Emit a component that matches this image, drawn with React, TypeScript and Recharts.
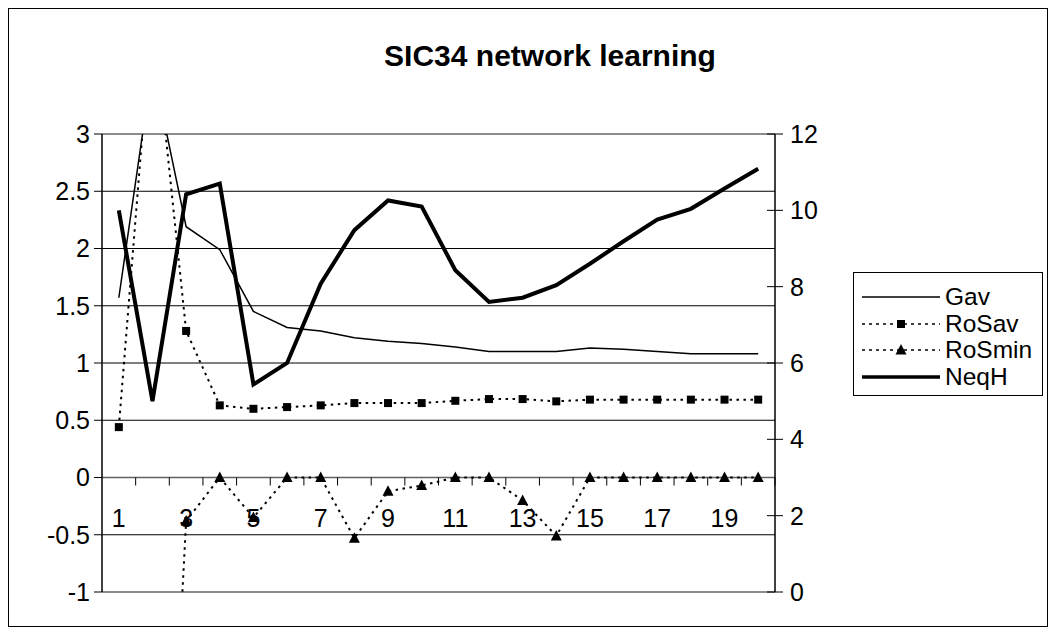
import React from 'react';
import { LineChart, Line, XAxis, YAxis, CartesianGrid, ReferenceLine, Legend } from 'recharts';

const categories = [1, 2, 3, 4, 5, 6, 7, 8, 9, 10, 11, 12, 13, 14, 15, 16, 17, 18, 19, 20];
const gav = [1.57, 3.6, 2.19, 1.99, 1.45, 1.31, 1.28, 1.22, 1.19, 1.17, 1.14, 1.1, 1.1, 1.1, 1.13, 1.12, 1.1, 1.08, 1.08, 1.08];
const roSav = [0.44, 4.1, 1.28, 0.63, 0.6, 0.615, 0.63, 0.65, 0.65, 0.65, 0.67, 0.685, 0.685, 0.665, 0.68, 0.68, 0.68, 0.68, 0.68, 0.68];
const roSmin = [-4, -6, -0.38, 0, -0.35, 0, 0, -0.53, -0.12, -0.07, 0, 0, -0.2, -0.51, 0, 0, 0, 0, 0, 0];
const neqH = [10, 5, 10.42, 10.7, 5.44, 6, 8.08, 9.48, 10.26, 10.1, 8.43, 7.6, 7.71, 8.04, 8.6, 9.19, 9.76, 10.04, 10.57, 11.09];
const leftTicks = [-1, -0.5, 0, 0.5, 1, 1.5, 2, 2.5, 3];
const rightTicks = [0, 2, 4, 6, 8, 10, 12];
const seriesNames = ['Gav', 'RoSav', 'RoSmin', 'NeqH'];
const title = 'SIC34 network learning';

const data = categories.map((c, i) => ({
  cat: c,
  Gav: gav[i],
  RoSav: roSav[i],
  RoSmin: roSmin[i],
  NeqH: neqH[i],
}));

const FONT = '"Liberation Sans", Arial, sans-serif';
const FS = 25;
const W = 1038;
const H = 617;
const MARGIN = { top: 125, right: 212, bottom: 0, left: 0 };
const LEFT_W = 93;
const RIGHT_W = 60;
const XAXIS_H = 34;
const PLOT_W = W - MARGIN.left - MARGIN.right - LEFT_W - RIGHT_W;
const PLOT_H = H - MARGIN.top - MARGIN.bottom - XAXIS_H;
const BAND = PLOT_W / categories.length;
const L_MIN = -1;
const L_MAX = 3;
const ZERO_Y = MARGIN.top + (PLOT_H * (L_MAX - 0)) / (L_MAX - L_MIN);

const XTick = (props: any) => {
  const { x, payload } = props;
  const v = payload.value;
  return (
    <g>
      <line x1={x + BAND / 2} x2={x + BAND / 2} y1={ZERO_Y} y2={ZERO_Y + 8} stroke="#000" strokeWidth={1} />
      {v % 2 === 1 ? (
        <text x={x} y={ZERO_Y + 40} textAnchor="middle" dominantBaseline="central" fontSize={FS} fontFamily={FONT} fill="#000">
          {v}
        </text>
      ) : null}
    </g>
  );
};

const RightTick = (props: any) => {
  const { x, y, payload } = props;
  return (
    <g>
      <line x1={x - 8} x2={x + 8} y1={y} y2={y} stroke="#000" strokeWidth={1} />
      <text x={x + 15} y={y} textAnchor="start" dominantBaseline="central" fontSize={FS} fontFamily={FONT} fill="#000">
        {payload.value}
      </text>
    </g>
  );
};

const Square = (props: any) => {
  const { cx, cy } = props;
  if (cx == null || cy == null) return null;
  return <rect x={cx - 4} y={cy - 4} width={8} height={8} fill="#000" />;
};

const Triangle = (props: any) => {
  const { cx, cy } = props;
  if (cx == null || cy == null) return null;
  return <path d={`M${cx},${cy - 6} L${cx + 5.5},${cy + 4.5} L${cx - 5.5},${cy + 4.5} Z`} fill="#000" />;
};

const LegendContent = () => {
  const rowH = 26.5;
  return (
    <div
      style={{
        border: '1px solid #000',
        background: '#fff',
        width: 190,
        padding: '11px 0 5px 0',
        fontFamily: FONT,
        fontSize: 24.5,
        boxSizing: 'border-box',
      }}
    >
      {seriesNames.map((name) => (
        <div key={name} style={{ display: 'flex', alignItems: 'center', height: rowH, lineHeight: `${rowH}px` }}>
          <svg width={80} height={20} style={{ marginLeft: 8, flex: 'none' }}>
            {name === 'Gav' && <line x1={0} x2={78} y1={10} y2={10} stroke="#000" strokeWidth={1.5} />}
            {name === 'NeqH' && <line x1={0} x2={78} y1={10} y2={10} stroke="#000" strokeWidth={3.5} />}
            {(name === 'RoSav' || name === 'RoSmin') && (
              <line x1={0} x2={78} y1={10} y2={10} stroke="#000" strokeWidth={1.5} strokeDasharray="3 4" />
            )}
            {name === 'RoSav' && <rect x={35} y={6} width={8} height={8} fill="#000" />}
            {name === 'RoSmin' && <path d="M39,4 L44.5,14.5 L33.5,14.5 Z" fill="#000" />}
          </svg>
          <span style={{ marginLeft: 3 }}>{name}</span>
        </div>
      ))}
    </div>
  );
};

export default function App() {
  return (
    <div style={{ width: W, height: H, border: '1px solid #000', position: 'relative', background: '#fff' }}>
      <div
        style={{
          position: 'absolute',
          left: 0,
          width: 1082,
          top: 30,
          textAlign: 'center',
          fontFamily: FONT,
          fontWeight: 'bold',
          fontSize: 30,
          pointerEvents: 'none',
        }}
      >
        {title}
      </div>
      <LineChart width={W} height={H} data={data} margin={MARGIN}>
        <CartesianGrid yAxisId="left" horizontal vertical={false} stroke="#000" strokeWidth={1} />
        <XAxis
          dataKey="cat"
          interval={0}
          height={XAXIS_H}
          axisLine={false}
          tickLine={false}
          padding={{ left: BAND / 2, right: BAND / 2 }}
          tick={<XTick />}
        />
        <YAxis
          yAxisId="left"
          width={LEFT_W}
          domain={[L_MIN, L_MAX]}
          ticks={leftTicks}
          allowDataOverflow
          interval={0}
          axisLine={{ stroke: '#000', strokeWidth: 1.5 }}
          tickLine={{ stroke: '#000' }}
          tickSize={8}
          tickMargin={4}
          tick={{ fontSize: FS, fill: '#000', fontFamily: FONT }}
        />
        <YAxis
          yAxisId="right"
          orientation="right"
          width={RIGHT_W}
          domain={[0, 12]}
          ticks={rightTicks}
          allowDataOverflow
          interval={0}
          axisLine={{ stroke: '#000', strokeWidth: 1.5 }}
          tickLine={false}
          tickSize={0}
          tickMargin={0}
          tick={<RightTick />}
        />
        <ReferenceLine yAxisId="left" y={L_MAX} stroke="#8c8c8c" strokeWidth={2} />
        <ReferenceLine yAxisId="left" y={L_MIN} stroke="#8c8c8c" strokeWidth={2} />
        <ReferenceLine yAxisId="left" y={0} stroke="#606060" strokeWidth={1.5} />
        <Line yAxisId="left" dataKey="Gav" stroke="#000" strokeWidth={1.5} dot={false} isAnimationActive={false} />
        <Line
          yAxisId="left"
          dataKey="RoSav"
          stroke="#000"
          strokeWidth={2}
          strokeDasharray="2.5 4.5"
          dot={<Square />}
          isAnimationActive={false}
        />
        <Line
          yAxisId="left"
          dataKey="RoSmin"
          stroke="#000"
          strokeWidth={2}
          strokeDasharray="2.5 4.5"
          dot={<Triangle />}
          isAnimationActive={false}
        />
        <Line yAxisId="right" dataKey="NeqH" stroke="#000" strokeWidth={4} dot={false} isAnimationActive={false} />
        <Legend
          layout="horizontal"
          verticalAlign="middle"
          align="center"
          content={<LegendContent />}
          wrapperStyle={{ position: 'absolute', left: 844, top: 263, width: 190, height: 'auto' }}
        />
      </LineChart>
    </div>
  );
}
